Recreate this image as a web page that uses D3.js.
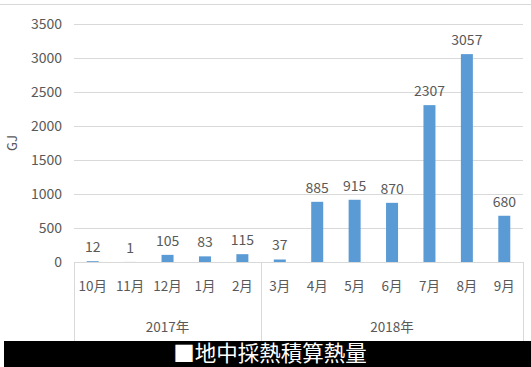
<!DOCTYPE html>
<html><head><meta charset="utf-8">
<script src="https://cdn.jsdelivr.net/npm/d3@7/dist/d3.min.js"></script>
<style>body{margin:0;background:#fff;}svg{display:block;}</style>
</head><body><svg id="c" width="531" height="367"></svg>
<script>
const months = ["10月","11月","12月","1月","2月","3月","4月","5月","6月","7月","8月","9月"];
const values = [12,1,105,83,115,37,885,915,870,2307,3057,680];
const years = ["2017年","2018年"];
const yearCounts = [5,7];
const yTicks = [0,500,1000,1500,2000,2500,3000,3500];
const title = "■地中採熱積算熱量";
const yLabel = "GJ";

(function(){
const svg = d3.select("#c");
const W = 531, H = 367;
const mL = 74, mR = 523, mT = 24, mB = 262;
const font = "'Noto Sans CJK JP','Noto Sans',sans-serif";
const textCol = "#595959", gridCol = "#d9d9d9";

const x = d3.scaleBand().domain(d3.range(months.length)).range([mL, mR]);
const y = d3.scaleLinear().domain([0, 3500]).range([mB, mT]);

// top border
svg.append("line").attr("x1",0).attr("x2",W).attr("y1",4.5).attr("y2",4.5)
  .attr("stroke",gridCol).attr("stroke-width",1);

// grid
const yAxis = d3.axisLeft(y).tickValues(yTicks).tickFormat(d3.format("d")).tickSize(-(mR-mL)).tickPadding(12);
const gy = svg.append("g").attr("transform",`translate(${mL},0)`).call(yAxis);
gy.select(".domain").remove();
gy.selectAll(".tick line").attr("stroke",gridCol).attr("stroke-width",1)
  .filter(d=>d===0).remove();
gy.selectAll(".tick text").attr("fill",textCol).style("font-family",font).style("font-size","14px");

// bars
const bw = 12;
svg.selectAll("rect.bar").data(values).join("rect").attr("class","bar")
  .attr("x",(d,i)=>x(i)+x.bandwidth()/2-bw/2).attr("width",bw)
  .attr("y",d=>y(d)).attr("height",d=>y(0)-y(d)).attr("fill","#5b9bd5");

// data labels
svg.selectAll("text.lbl").data(values).join("text").attr("class","lbl")
  .attr("x",(d,i)=>x(i)+x.bandwidth()/2).attr("y",d=>y(d)-9)
  .attr("text-anchor","middle").attr("fill",textCol)
  .style("font-family",font).style("font-size","14px").text(d=>d);

// category axis box
const boxBottom = 341;
svg.append("line").attr("x1",mL).attr("x2",mR).attr("y1",mB+0.5).attr("y2",mB+0.5)
  .attr("stroke",gridCol);
let acc = 0;
const bounds = [0];
yearCounts.forEach(c=>{acc+=c;bounds.push(acc);});
const bx = d => d===months.length ? mR : x(d);
svg.selectAll("line.sep").data(bounds).join("line").attr("class","sep")
  .attr("x1",d=>Math.round(bx(d))+0.5).attr("x2",d=>Math.round(bx(d))+0.5)
  .attr("y1",mB).attr("y2",boxBottom).attr("stroke",gridCol);

const xAxis = d3.axisBottom(x).tickFormat(i=>months[i]).tickSize(0).tickPadding(19);
const gx = svg.append("g").attr("transform",`translate(0,${mB})`).call(xAxis);
gx.select(".domain").remove();
gx.selectAll(".tick text").attr("fill",textCol).style("font-family",font).style("font-size","13.5px");

// year labels
svg.selectAll("text.yr").data(years).join("text").attr("class","yr")
  .attr("x",(d,i)=>(bx(bounds[i])+bx(bounds[i+1]))/2)
  .attr("y",332).attr("text-anchor","middle").attr("fill",textCol)
  .style("font-family",font).style("font-size","13.5px").text(d=>d);

// y label
svg.append("text").attr("transform","translate(17,143) rotate(-90)")
  .attr("text-anchor","middle").attr("fill",textCol)
  .style("font-family",font).style("font-size","13px").text(yLabel);

// title band
svg.append("rect").attr("x",4).attr("y",341).attr("width",W-4).attr("height",H-341).attr("fill","#000");
svg.append("text").attr("x",270).attr("y",360.5).attr("text-anchor","middle").attr("fill","#fff")
  .style("font-family",font).style("font-size","21.5px").text(title);
})();
</script></body></html>
